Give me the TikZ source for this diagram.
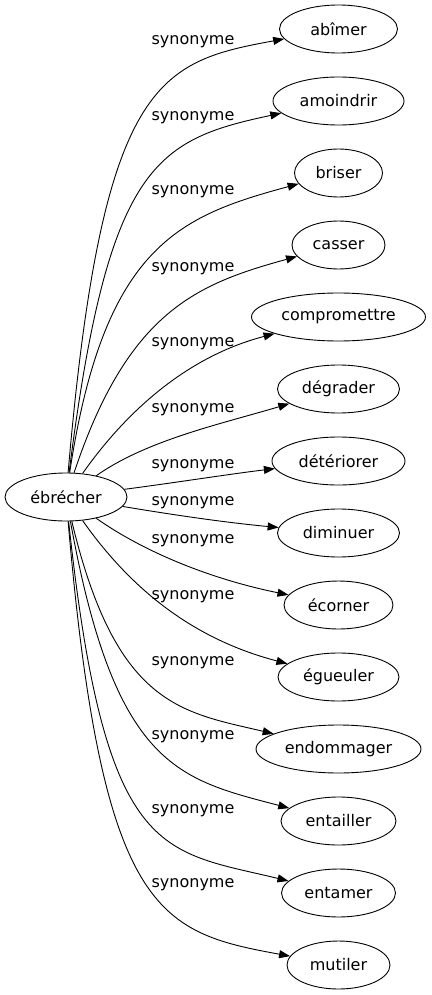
\documentclass[tikz,border=0pt]{standalone}
\usepackage{fontspec}
\setmainfont{DejaVu Sans}
\usetikzlibrary{shapes.geometric,arrows.meta}

\begin{document}
\begin{tikzpicture}[x=1pt, y=-1pt, every node/.style={font=\fontsize{16}{19}\selectfont},
  word/.style={draw, ellipse, line width=0.9pt, minimum height=48pt, inner sep=0pt},
  syn/.style={inner sep=0pt},
  link/.style={line width=0.9pt, -{Triangle[length=11pt,width=8pt]}}]
\useasboundingbox (0,0) rectangle (431,995);
\node[word, minimum width=122pt] (ebrecher) at (66,497) {ébrécher};
\foreach \nm/\word/\wid/\yy/\ly/\ca/\cb in {
  abimer/abîmer/118/29/42/{102,80}/{158,62},
  amoindrir/amoindrir/131/101/118/{108,165}/{155,140},
  briser/briser/88/173/192/{104,245}/{180,216},
  casser/casser/93/245/269/{128,311}/{197,284},
  compromettre/compromettre/174/317/344/{128,409}/{189,356},
  degrader/dégrader/122/389/410/{147,440}/{221,424},
  deteriorer/détériorer/133/461/466/{180,482}/{230,474},
  diminuer/diminuer/122/533/503/{180,516}/{230,523},
  ecorner/écorner/109/605/541/{147,554}/{215,580},
  egueuler/égueuler/121/677/597/{128,585}/{189,638},
  endommager/endommager/165/749/663/{116,706}/{181,712},
  entailler/entailler/115/821/737/{115,767}/{178,779},
  entamer/entamer/114/893/811/{105,860}/{160,850},
  mutiler/mutiler/103/965/885/{102,914}/{158,932}} {
  \node[word, minimum width=\wid pt] (\nm) at (338.5,\yy) {\word};
  \draw[link] (ebrecher) .. controls (\ca) and (\cb) .. (\nm);
  \node[syn] (s\nm) at (193,\ly) {synonyme};
}
\end{tikzpicture}
\end{document}
